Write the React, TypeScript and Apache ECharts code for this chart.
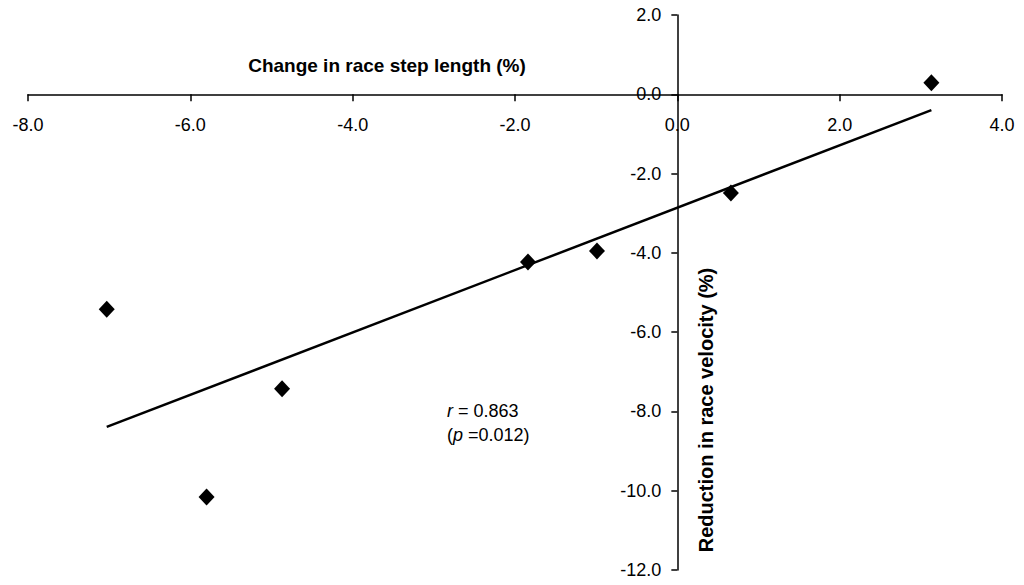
import React, { useEffect, useRef } from "react";
import * as echarts from "echarts";

const pointsX = [3.13, 0.66, -0.99, -1.84, -4.87, -5.8, -7.03];
const pointsY = [0.29, -2.49, -3.95, -4.23, -7.43, -10.16, -5.42];
const trendX = [-7.03, 3.13];
const trendY = [-8.39, -0.4];
const xTitle = "Change in race step length (%)";
const yTitle = "Reduction in race velocity (%)";
const annotation = "{i|r} = 0.863\n({i|p} =0.012)";
const X_MIN = -8;
const X_MAX = 4;
const Y_MIN = -12;
const Y_MAX = 2;

const FONT = "'Liberation Sans', Arial, sans-serif";
const W = 1024;
const H = 585;
const G = { left: 28, right: 22, top: 15, bottom: 15 };

export default function App() {
  const ref = useRef<HTMLDivElement>(null);
  useEffect(() => {
    if (!ref.current) return;
    const chart = echarts.init(ref.current, null, { renderer: "svg" });
    const gw = W - G.left - G.right;
    const gh = H - G.top - G.bottom;
    const xOffset = -(gh * (Y_MAX - 0)) / (Y_MAX - Y_MIN);
    const yOffset = -(gw * (X_MAX - 0)) / (X_MAX - X_MIN);
    chart.setOption({
      animation: false,
      backgroundColor: "#ffffff",
      grid: { ...G, containLabel: false, outerBoundsMode: "none" },
      xAxis: {
        type: "value",
        position: "top",
        offset: xOffset,
        min: X_MIN,
        max: X_MAX,
        interval: 2,
        splitLine: { show: false },
        axisLine: { onZero: false, lineStyle: { color: "#000", width: 1.5 } },
        axisTick: { show: true, inside: true, length: 7, lineStyle: { color: "#000", width: 1.5 } },
        axisLabel: {
          inside: true,
          color: "#000",
          fontFamily: FONT,
          fontSize: 18,
          margin: 22,
          formatter: (v: number) => v.toFixed(1),
        },
      },
      yAxis: {
        type: "value",
        position: "right",
        offset: yOffset,
        min: Y_MIN,
        max: Y_MAX,
        interval: 2,
        splitLine: { show: false },
        axisLine: { onZero: false, lineStyle: { color: "#000", width: 1.5 } },
        axisTick: { show: true, inside: true, length: 6, lineStyle: { color: "#000", width: 1.5 } },
        axisLabel: {
          inside: true,
          color: "#000",
          fontFamily: FONT,
          fontSize: 18,
          margin: 16,
          formatter: (v: number) => v.toFixed(1),
        },
      },
      series: [
        {
          type: "line",
          data: trendX.map((x, i) => [x, trendY[i]]),
          symbol: "none",
          lineStyle: { color: "#000", width: 2.5 },
          z: 2,
        },
        {
          type: "scatter",
          data: pointsX.map((x, i) => [x, pointsY[i]]),
          symbol: "diamond",
          symbolSize: [16, 17],
          itemStyle: { color: "#000", opacity: 1 },
          z: 3,
        },
      ],
      graphic: [
        {
          type: "text",
          x: 387,
          y: 65,
          style: {
            text: xTitle,
            fontFamily: FONT,
            fontSize: 19,
            fontWeight: "bold",
            fill: "#000",
            align: "center",
            verticalAlign: "middle",
          },
        },
        {
          type: "text",
          x: 706,
          y: 410,
          rotation: Math.PI / 2,
          style: {
            text: yTitle,
            fontFamily: FONT,
            fontSize: 20,
            fontWeight: "bold",
            fill: "#000",
            align: "center",
            verticalAlign: "middle",
          },
        },
        {
          type: "text",
          x: 447,
          y: 399,
          style: {
            text: annotation,
            fontFamily: FONT,
            fontSize: 18,
            lineHeight: 24,
            fill: "#000",
            rich: {
              i: { fontStyle: "italic", fontFamily: FONT, fontSize: 18, fill: "#000" },
            },
          },
        },
      ],
    });
    return () => chart.dispose();
  }, []);
  return <div ref={ref} style={{ width: W, height: H, margin: -8 }} />;
}
